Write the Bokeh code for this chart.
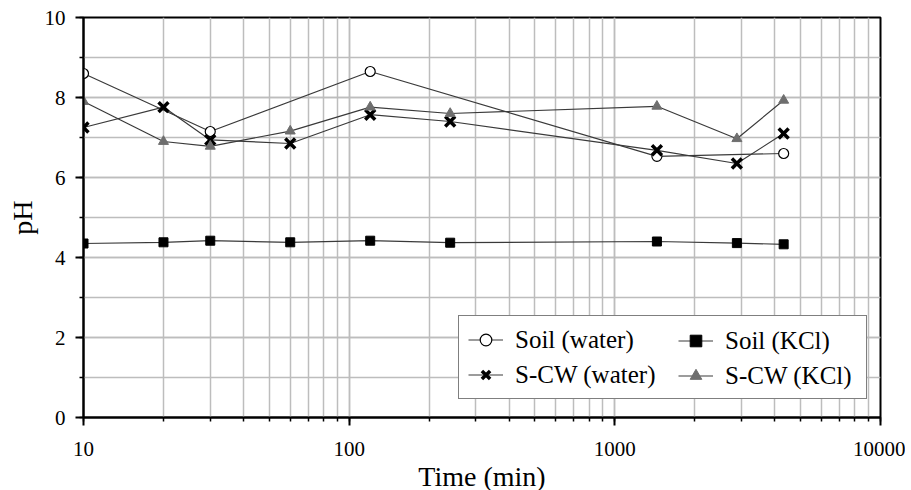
from bokeh.plotting import figure
from bokeh.models import (Legend, LegendItem, SingleIntervalTicker, LogTicker,
                          NumeralTickFormatter, Range1d)
from bokeh.embed import file_html
from bokeh.resources import INLINE

# ---- data ----
time_soil_water = [10, 30, 120, 1440, 4320]
ph_soil_water = [8.6, 7.15, 8.65, 6.53, 6.6]
time_all = [10, 20, 30, 60, 120, 240, 1440, 2880, 4320]
ph_soil_kcl = [4.35, 4.38, 4.42, 4.38, 4.42, 4.37, 4.40, 4.36, 4.33]
ph_scw_water = [7.25, 7.76, 6.94, 6.85, 7.57, 7.40, 6.68, 6.35, 7.10]
ph_scw_kcl = [7.90, 6.90, 6.78, 7.16, 7.76, 7.60, 7.78, 6.97, 7.93]

FONT = "Liberation Serif"
LINE = "#3a3a3a"
GRID = "#bdbdbd"

p = figure(x_axis_type="log", x_range=Range1d(10, 10000), y_range=Range1d(0, 10),
           frame_width=797, frame_height=400,
           min_border_left=83, min_border_right=25, min_border_top=17, min_border_bottom=68,
           output_backend="svg", toolbar_location=None)

p.xaxis.ticker = LogTicker(mantissas=[1], num_minor_ticks=10, desired_num_ticks=4)
p.xaxis.formatter = NumeralTickFormatter(format="0")
p.yaxis.ticker = SingleIntervalTicker(interval=2, num_minor_ticks=2)
p.xgrid.ticker = p.xaxis.ticker
p.ygrid.ticker = p.yaxis.ticker

for g in (p.xgrid, p.ygrid):
    g.grid_line_color = GRID
    g.grid_line_width = 1.5
    g.minor_grid_line_color = GRID
    g.minor_grid_line_width = 1.5

for ax in (p.xaxis, p.yaxis):
    ax.axis_line_color = "black"
    ax.axis_line_width = 2
    ax.major_tick_line_color = "black"
    ax.major_tick_line_width = 2
    ax.major_tick_out = 8
    ax.major_tick_in = 0
    ax.minor_tick_line_color = "black"
    ax.minor_tick_line_width = 1.5
    ax.minor_tick_out = 4
    ax.minor_tick_in = 0
    ax.major_label_text_font = FONT
    ax.major_label_text_font_size = "21px"
    ax.major_label_text_color = "black"
    ax.axis_label_text_font = FONT
    ax.axis_label_text_font_size = "28px"
    ax.axis_label_text_font_style = "normal"
    ax.axis_label_text_color = "black"

p.xaxis.axis_label = "Time (min)"
p.yaxis.axis_label = "pH"
p.xaxis.major_label_standoff = 16
p.xaxis.axis_label_standoff = 2
p.yaxis.major_label_standoff = 10
p.yaxis.axis_label_standoff = 4

p.outline_line_color = "black"
p.outline_line_width = 2
p.outline_line_alpha = 1

# ---- series ----
l1 = p.line(time_soil_water, ph_soil_water, line_color=LINE, line_width=1.2)
s1 = p.scatter(time_soil_water, ph_soil_water, marker="circle", size=10,
               fill_color="white", line_color="black", line_width=1.2)

l2 = p.line(time_all, ph_soil_kcl, line_color=LINE, line_width=1.2)
s2 = p.scatter(time_all, ph_soil_kcl, marker="square", size=9,
               fill_color="black", line_color="black")

l3 = p.line(time_all, ph_scw_water, line_color=LINE, line_width=1.2)
s3 = p.scatter(time_all, ph_scw_water, marker="x", size=14,
               line_color="black", line_width=3.5)

l4 = p.line(time_all, ph_scw_kcl, line_color=LINE, line_width=1.2)
s4 = p.scatter(time_all, ph_scw_kcl, marker="triangle", size=10,
               fill_color="#6e6e6e", line_color="#6e6e6e")

common = dict(label_text_font=FONT, label_text_font_size="25px", label_text_color="black",
              glyph_width=35, glyph_height=29, label_height=29, label_standoff=12,
              spacing=6, padding=9, margin=0, orientation="vertical")

# first column carries the frame of the whole legend box
legend_a = Legend(items=[
    LegendItem(label="Soil (water)", renderers=[l1, s1]),
    LegendItem(label="S-CW (water)", renderers=[l3, s3]),
], location=(375, 18), label_width=342,
    border_line_color="black", border_line_width=1.5, background_fill_alpha=1,
    **common)
legend_b = Legend(items=[
    LegendItem(label="Soil (KCl)", renderers=[l2, s2]),
    LegendItem(label="S-CW (KCl)", renderers=[l4, s4]),
], location=(595, 27),
    border_line_color=None, background_fill_alpha=0,
    **common)
p.add_layout(legend_a, "center")
p.add_layout(legend_b, "center")

open("out.html", "w").write(file_html(p, INLINE))
